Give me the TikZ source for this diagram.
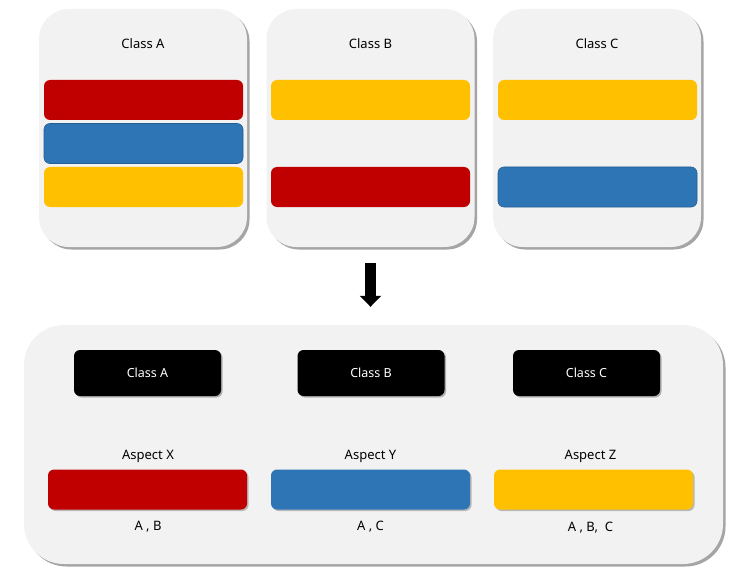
\documentclass[tikz,border=0pt]{standalone}
\usepackage{fontspec}
\setmainfont{Noto Sans}
\usetikzlibrary{arrows.meta,positioning,shadows}
\definecolor{panelgray}{HTML}{F2F2F2}
\definecolor{barred}{HTML}{C00000}
\definecolor{barblue}{HTML}{2E75B6}
\definecolor{baryellow}{HTML}{FFC000}

\begin{document}
\begin{tikzpicture}[x=1pt,y=-1pt,
  panel/.style={rectangle,rounded corners=30pt,fill=panelgray,minimum width=208pt,minimum height=238pt,
    drop shadow={shadow xshift=2.5pt,shadow yshift=-2.5pt,opacity=0.5,fill=black!70}},
  bar/.style={rectangle,rounded corners=6pt,minimum width=199pt,minimum height=40pt,inner sep=0pt},
  sbar/.style={bar,drop shadow={shadow xshift=1.5pt,shadow yshift=-1.5pt,opacity=0.35,fill=black!70}},
  cls/.style={rectangle,rounded corners=6pt,fill=black,text=white,minimum width=147pt,minimum height=46pt,
    font=\fontsize{12.5}{14}\selectfont,drop shadow={shadow xshift=1.5pt,shadow yshift=-1.5pt,opacity=0.4,fill=black!70}},
  lab/.style={font=\fontsize{13}{15}\selectfont}]
\useasboundingbox (0,0) rectangle (750,583);
% top: three classes
\node[panel] (pA) at (143,128) {};
\node[panel] (pB) at (370.5,128) {};
\node[panel] (pC) at (597,128) {};
\node[lab] (tA) at (143,44) {Class A};
\node[lab] (tB) at (370.5,44) {Class B};
\node[lab] (tC) at (597,44) {Class C};
\node[bar,fill=barred] (a1) at (143.5,100) {};
\node[bar,fill=barblue,draw=barblue!80!black,line width=0.6pt] (a2) at (143.5,143.5) {};
\node[bar,fill=baryellow] (a3) at (143.5,187) {};
\node[bar,fill=baryellow] (b1) at (370.5,100) {};
\node[bar,fill=barred] (b2) at (370.5,187) {};
\node[bar,fill=baryellow] (c1) at (597.5,100) {};
\node[bar,fill=barblue,draw=barblue!80!black,line width=0.6pt] (c2) at (597.5,187) {};
% bottom: aspects
\node[panel,rounded corners=40pt,minimum width=699pt,minimum height=239pt] (pAll) at (373.5,444.5) {};
\node[cls] (kA) at (147.5,373) {Class A};
\node[cls] (kB) at (371,373) {Class B};
\node[cls] (kC) at (586.5,373) {Class C};
\node[lab] (xX) at (148,456) {Aspect X};
\node[lab] (xY) at (370.5,456) {Aspect Y};
\node[lab] (xZ) at (590.5,456) {Aspect Z};
\node[sbar,fill=barred] (sX) at (147.5,489.5) {};
\node[sbar,fill=barblue] (sY) at (370.5,489.5) {};
\node[sbar,fill=baryellow] (sZ) at (593.5,489.5) {};
\node[lab] (uX) at (148,527) {A , B};
\node[lab] (uY) at (370.5,527) {A , C};
\node[lab] (uZ) at (590.5,528) {A , B,\ \ C};
\draw[line width=11pt,-{Triangle[width=21pt,length=11pt]},shorten <=16pt,shorten >=18pt] (pB.south) -- (pB.south |- pAll.north);
\end{tikzpicture}
\end{document}
